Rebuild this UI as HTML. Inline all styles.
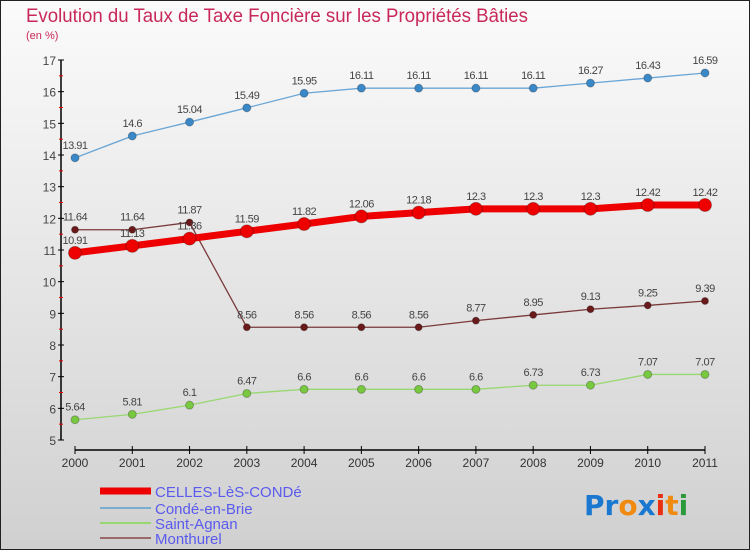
<!DOCTYPE html>
<html><head><meta charset="utf-8"><style>
body{margin:0;width:750px;height:550px;overflow:hidden}
svg{display:block;font-family:"Liberation Sans",sans-serif}
</style></head><body>
<svg width="750" height="550">
<defs><linearGradient id="bg" x1="0" y1="0" x2="0" y2="1"><stop offset="0" stop-color="#fbfbfb"/><stop offset="1" stop-color="#d0d0d0"/></linearGradient></defs>
<rect x="0.5" y="0.5" width="749" height="549" fill="url(#bg)" stroke="#222"/>
<text x="26" y="22" font-size="19" fill="#c8285a" textLength="502" lengthAdjust="spacingAndGlyphs">Evolution du Taux de Taxe Foncière sur les Propriétés Bâties</text>
<text x="26" y="39" font-size="11" fill="#c8285a">(en %)</text>
<g id="axes"></g><g id="series"></g>
<g>
<line x1="100" y1="491" x2="151" y2="491" stroke="#ee0000" stroke-width="7"/>
<text x="155" y="497" font-size="15" fill="#5a5aee">CELLES-LèS-CONDé</text>
<line x1="100" y1="508" x2="151" y2="508" stroke="#7aaed0" stroke-width="2"/>
<text x="155" y="514" font-size="15" fill="#5a5aee">Condé-en-Brie</text>
<line x1="100" y1="523" x2="151" y2="523" stroke="#98d870" stroke-width="2"/>
<text x="155" y="529" font-size="15" fill="#5a5aee">Saint-Agnan</text>
<line x1="100" y1="538" x2="151" y2="538" stroke="#9a6a6a" stroke-width="2"/>
<text x="155" y="544" font-size="15" fill="#5a5aee">Monthurel</text>
</g>
<g font-size="28" font-family="'DejaVu Sans',sans-serif" font-weight="bold">
<text x="584" y="515"><tspan fill="#1a78d0">Pr</tspan><tspan fill="#f08a10">o</tspan><tspan fill="#1a78d0">x</tspan><tspan fill="#e83010">i</tspan><tspan fill="#f08a10">t</tspan><tspan fill="#2a9a3a">i</tspan></text>
</g>
</svg>
<script>
const years=["2000","2001","2002","2003","2004","2005","2006","2007","2008","2009","2010","2011"];
const yTicks=[5,6,7,8,9,10,11,12,13,14,15,16,17];
const celles=[10.91,11.13,11.36,11.59,11.82,12.06,12.18,12.3,12.3,12.3,12.42,12.42];
const conde=[13.91,14.6,15.04,15.49,15.95,16.11,16.11,16.11,16.11,16.27,16.43,16.59];
const saintAgnan=[5.64,5.81,6.1,6.47,6.6,6.6,6.6,6.6,6.73,6.73,7.07,7.07];
const monthurel=[11.64,11.64,11.87,8.56,8.56,8.56,8.56,8.77,8.95,9.13,9.25,9.39];
const NS="http://www.w3.org/2000/svg";
const X=i=>75+i*(630/11);
const Y=v=>440-(v-5)*(380/12);
function mk(t,a,p){const e=document.createElementNS(NS,t);for(const k in a)e.setAttribute(k,a[k]);p.appendChild(e);return e;}
const ax=document.getElementById('axes');
mk('line',{x1:61,y1:60,x2:61,y2:440,stroke:'#000','stroke-width':1.5},ax);
yTicks.forEach(v=>{
 mk('line',{x1:58,y1:Y(v),x2:64,y2:Y(v),stroke:'#000'},ax);
 if(v<17)mk('line',{x1:59,y1:Y(v+0.5),x2:63,y2:Y(v+0.5),stroke:'#e00'},ax);
 const t=mk('text',{x:56,y:Y(v)+5,'font-size':12,fill:'#444','text-anchor':'end'},ax);t.textContent=v;
 
 
});
mk('line',{x1:75,y1:450,x2:705,y2:450,stroke:'#000','stroke-width':1.5},ax);
years.forEach((y,i)=>{
 mk('line',{x1:X(i),y1:446,x2:X(i),y2:454,stroke:'#000'},ax);
 const t=mk('text',{x:X(i),y:467,'font-size':12,fill:'#333','text-anchor':'middle'},ax);t.textContent=y;
 
 
});
const sg=document.getElementById('series');
function series(name,vals,stroke,w,fill,r){
 const g=mk('g',{},sg);
 
 
 mk('polyline',{points:vals.map((v,i)=>X(i)+','+Y(v)).join(' '),fill:'none',stroke:stroke,'stroke-width':w,'stroke-linejoin':'round'},g);
 vals.forEach((v,i)=>{
  const c=mk('circle',{cx:X(i),cy:Y(v),r:r,fill:fill,stroke:'rgba(0,0,0,0.25)','stroke-width':1},g);
  
  
  const t=mk('text',{x:X(i),y:Y(v)-9,'font-size':11,fill:'#444','text-anchor':'middle','letter-spacing':'-0.5'},g);t.textContent=v;
  
  
 });
}
series('conde',conde,'#6aa6d6',1.3,'#3a88c8',4);
series('monthurel',monthurel,'#7a3a3a',1.3,'#6a1a1a',3.5);
series('saint-agnan',saintAgnan,'#98d870',1.3,'#78c840',4);
series('celles',celles,'#ee0000',7,'#ee0000',6.5);
</script>
</body></html>
